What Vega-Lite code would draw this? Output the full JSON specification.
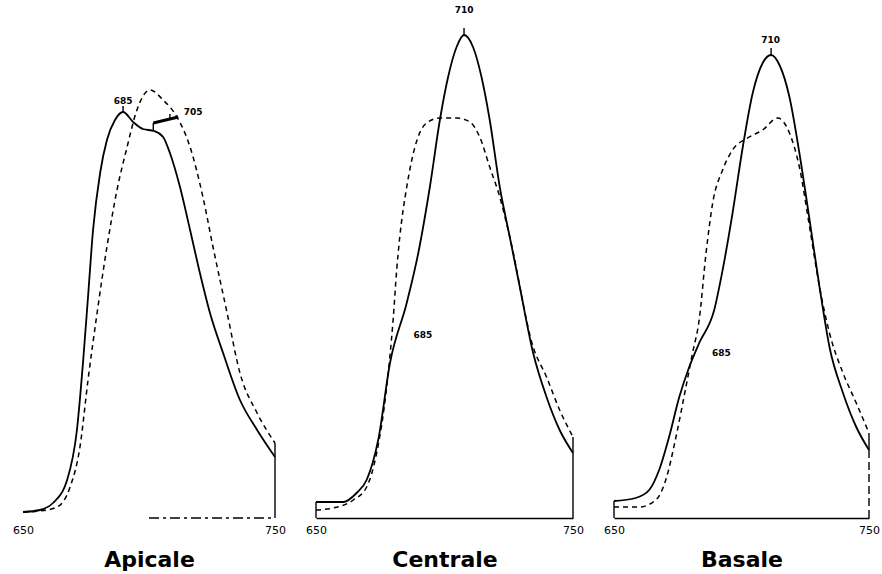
{
  "$schema": "https://vega.github.io/schema/vega-lite/v6.json",
  "padding": {"left": 12, "top": 3, "right": 5, "bottom": 5},
  "background": "white",
  "config": {"view": {"stroke": null}, "font": "DejaVu Sans",
    "axisX": {"ticks": false, "grid": false, "labelPadding": 6, "labelFontSize": 11, "labelColor": "black", "labelFont": "DejaVu Sans", "titleFontSize": 22, "titleFontWeight": "bold", "titleColor": "black", "titlePadding": 14, "domainColor": "black", "domainWidth": 1.5, "labelFlush": false}
  },
  "datasets": {
    "curves": [
      {"panel": "Apicale", "series": "solid", "nm": 650, "v": 6},
      {"panel": "Apicale", "series": "solid", "nm": 656.7, "v": 8},
      {"panel": "Apicale", "series": "solid", "nm": 661.9, "v": 15},
      {"panel": "Apicale", "series": "solid", "nm": 667.5, "v": 38},
      {"panel": "Apicale", "series": "solid", "nm": 671.4, "v": 88},
      {"panel": "Apicale", "series": "solid", "nm": 673.8, "v": 155},
      {"panel": "Apicale", "series": "solid", "nm": 675.8, "v": 221},
      {"panel": "Apicale", "series": "solid", "nm": 677.8, "v": 288},
      {"panel": "Apicale", "series": "solid", "nm": 680.6, "v": 345},
      {"panel": "Apicale", "series": "solid", "nm": 683.3, "v": 378},
      {"panel": "Apicale", "series": "solid", "nm": 686.5, "v": 398},
      {"panel": "Apicale", "series": "solid", "nm": 689.7, "v": 406},
      {"panel": "Apicale", "series": "solid", "nm": 693.7, "v": 396},
      {"panel": "Apicale", "series": "solid", "nm": 697.6, "v": 389},
      {"panel": "Apicale", "series": "solid", "nm": 702, "v": 387},
      {"panel": "Apicale", "series": "solid", "nm": 705.6, "v": 381},
      {"panel": "Apicale", "series": "solid", "nm": 708.3, "v": 365},
      {"panel": "Apicale", "series": "solid", "nm": 712.3, "v": 331},
      {"panel": "Apicale", "series": "solid", "nm": 716.3, "v": 288},
      {"panel": "Apicale", "series": "solid", "nm": 720.2, "v": 245},
      {"panel": "Apicale", "series": "solid", "nm": 724.2, "v": 205},
      {"panel": "Apicale", "series": "solid", "nm": 729.4, "v": 165},
      {"panel": "Apicale", "series": "solid", "nm": 736.1, "v": 118},
      {"panel": "Apicale", "series": "solid", "nm": 742.9, "v": 88},
      {"panel": "Apicale", "series": "solid", "nm": 750, "v": 61},

      {"panel": "Apicale", "series": "dashed", "nm": 650, "v": 6},
      {"panel": "Apicale", "series": "dashed", "nm": 656.7, "v": 7},
      {"panel": "Apicale", "series": "dashed", "nm": 663.5, "v": 11},
      {"panel": "Apicale", "series": "dashed", "nm": 668.7, "v": 31},
      {"panel": "Apicale", "series": "dashed", "nm": 672.6, "v": 71},
      {"panel": "Apicale", "series": "dashed", "nm": 675.8, "v": 138},
      {"panel": "Apicale", "series": "dashed", "nm": 679.4, "v": 205},
      {"panel": "Apicale", "series": "dashed", "nm": 683.3, "v": 271},
      {"panel": "Apicale", "series": "dashed", "nm": 687.3, "v": 328},
      {"panel": "Apicale", "series": "dashed", "nm": 691.3, "v": 371},
      {"panel": "Apicale", "series": "dashed", "nm": 695.2, "v": 408},
      {"panel": "Apicale", "series": "dashed", "nm": 700.4, "v": 428},
      {"panel": "Apicale", "series": "dashed", "nm": 705.6, "v": 418},
      {"panel": "Apicale", "series": "dashed", "nm": 711.1, "v": 401},
      {"panel": "Apicale", "series": "dashed", "nm": 716.3, "v": 371},
      {"panel": "Apicale", "series": "dashed", "nm": 721.4, "v": 321},
      {"panel": "Apicale", "series": "dashed", "nm": 725.4, "v": 271},
      {"panel": "Apicale", "series": "dashed", "nm": 731, "v": 205},
      {"panel": "Apicale", "series": "dashed", "nm": 736.1, "v": 145},
      {"panel": "Apicale", "series": "dashed", "nm": 742.9, "v": 105},
      {"panel": "Apicale", "series": "dashed", "nm": 750, "v": 75},

      {"panel": "Apicale", "series": "bracket", "nm": 701.7, "v": 395},
      {"panel": "Apicale", "series": "bracket", "nm": 711.6, "v": 401},

      {"panel": "Centrale", "series": "solid", "nm": 650, "v": 16},
      {"panel": "Centrale", "series": "solid", "nm": 660.6, "v": 16},
      {"panel": "Centrale", "series": "solid", "nm": 665.8, "v": 25},
      {"panel": "Centrale", "series": "solid", "nm": 669.7, "v": 38},
      {"panel": "Centrale", "series": "solid", "nm": 674.2, "v": 78},
      {"panel": "Centrale", "series": "solid", "nm": 678.8, "v": 155},
      {"panel": "Centrale", "series": "solid", "nm": 685.3, "v": 215},
      {"panel": "Centrale", "series": "solid", "nm": 689.8, "v": 265},
      {"panel": "Centrale", "series": "solid", "nm": 694.3, "v": 331},
      {"panel": "Centrale", "series": "solid", "nm": 698.2, "v": 398},
      {"panel": "Centrale", "series": "solid", "nm": 701.4, "v": 441},
      {"panel": "Centrale", "series": "solid", "nm": 704.7, "v": 471},
      {"panel": "Centrale", "series": "solid", "nm": 707.6, "v": 483},
      {"panel": "Centrale", "series": "solid", "nm": 711.1, "v": 471},
      {"panel": "Centrale", "series": "solid", "nm": 714.4, "v": 441},
      {"panel": "Centrale", "series": "solid", "nm": 717.6, "v": 398},
      {"panel": "Centrale", "series": "solid", "nm": 721.5, "v": 331},
      {"panel": "Centrale", "series": "solid", "nm": 725.4, "v": 281},
      {"panel": "Centrale", "series": "solid", "nm": 729.3, "v": 231},
      {"panel": "Centrale", "series": "solid", "nm": 734.5, "v": 165},
      {"panel": "Centrale", "series": "solid", "nm": 739.7, "v": 121},
      {"panel": "Centrale", "series": "solid", "nm": 744.8, "v": 88},
      {"panel": "Centrale", "series": "solid", "nm": 750, "v": 65},

      {"panel": "Centrale", "series": "dashed", "nm": 650, "v": 8},
      {"panel": "Centrale", "series": "dashed", "nm": 656.7, "v": 10},
      {"panel": "Centrale", "series": "dashed", "nm": 664.5, "v": 18},
      {"panel": "Centrale", "series": "dashed", "nm": 669.7, "v": 31},
      {"panel": "Centrale", "series": "dashed", "nm": 673.6, "v": 65},
      {"panel": "Centrale", "series": "dashed", "nm": 677.5, "v": 131},
      {"panel": "Centrale", "series": "dashed", "nm": 680, "v": 198},
      {"panel": "Centrale", "series": "dashed", "nm": 681.4, "v": 248},
      {"panel": "Centrale", "series": "dashed", "nm": 682.6, "v": 281},
      {"panel": "Centrale", "series": "dashed", "nm": 685.3, "v": 331},
      {"panel": "Centrale", "series": "dashed", "nm": 688.5, "v": 371},
      {"panel": "Centrale", "series": "dashed", "nm": 693, "v": 395},
      {"panel": "Centrale", "series": "dashed", "nm": 698.2, "v": 400},
      {"panel": "Centrale", "series": "dashed", "nm": 704.7, "v": 400},
      {"panel": "Centrale", "series": "dashed", "nm": 709.9, "v": 396},
      {"panel": "Centrale", "series": "dashed", "nm": 713.7, "v": 381},
      {"panel": "Centrale", "series": "dashed", "nm": 717.6, "v": 351},
      {"panel": "Centrale", "series": "dashed", "nm": 721.5, "v": 321},
      {"panel": "Centrale", "series": "dashed", "nm": 725.4, "v": 281},
      {"panel": "Centrale", "series": "dashed", "nm": 734.5, "v": 171},
      {"panel": "Centrale", "series": "dashed", "nm": 739.7, "v": 141},
      {"panel": "Centrale", "series": "dashed", "nm": 744.8, "v": 108},
      {"panel": "Centrale", "series": "dashed", "nm": 750, "v": 81},

      {"panel": "Basale", "series": "solid", "nm": 650, "v": 17},
      {"panel": "Basale", "series": "solid", "nm": 658.5, "v": 20},
      {"panel": "Basale", "series": "solid", "nm": 663.8, "v": 28},
      {"panel": "Basale", "series": "solid", "nm": 667.7, "v": 48},
      {"panel": "Basale", "series": "solid", "nm": 671.6, "v": 81},
      {"panel": "Basale", "series": "solid", "nm": 675.6, "v": 121},
      {"panel": "Basale", "series": "solid", "nm": 679.5, "v": 151},
      {"panel": "Basale", "series": "solid", "nm": 683.4, "v": 175},
      {"panel": "Basale", "series": "solid", "nm": 689.3, "v": 208},
      {"panel": "Basale", "series": "solid", "nm": 692.6, "v": 248},
      {"panel": "Basale", "series": "solid", "nm": 696.5, "v": 305},
      {"panel": "Basale", "series": "solid", "nm": 700.5, "v": 371},
      {"panel": "Basale", "series": "solid", "nm": 704.4, "v": 425},
      {"panel": "Basale", "series": "solid", "nm": 708.3, "v": 455},
      {"panel": "Basale", "series": "solid", "nm": 711.6, "v": 463},
      {"panel": "Basale", "series": "solid", "nm": 714.9, "v": 453},
      {"panel": "Basale", "series": "solid", "nm": 718.8, "v": 421},
      {"panel": "Basale", "series": "solid", "nm": 722.7, "v": 365},
      {"panel": "Basale", "series": "solid", "nm": 726.7, "v": 298},
      {"panel": "Basale", "series": "solid", "nm": 730.6, "v": 231},
      {"panel": "Basale", "series": "solid", "nm": 734.5, "v": 171},
      {"panel": "Basale", "series": "solid", "nm": 739.8, "v": 125},
      {"panel": "Basale", "series": "solid", "nm": 745, "v": 91},
      {"panel": "Basale", "series": "solid", "nm": 750, "v": 68},

      {"panel": "Basale", "series": "dashed", "nm": 650, "v": 11},
      {"panel": "Basale", "series": "dashed", "nm": 659.8, "v": 11},
      {"panel": "Basale", "series": "dashed", "nm": 666.4, "v": 18},
      {"panel": "Basale", "series": "dashed", "nm": 670.3, "v": 38},
      {"panel": "Basale", "series": "dashed", "nm": 674.3, "v": 81},
      {"panel": "Basale", "series": "dashed", "nm": 678.2, "v": 131},
      {"panel": "Basale", "series": "dashed", "nm": 680.8, "v": 165},
      {"panel": "Basale", "series": "dashed", "nm": 683.4, "v": 198},
      {"panel": "Basale", "series": "dashed", "nm": 686.1, "v": 265},
      {"panel": "Basale", "series": "dashed", "nm": 688.7, "v": 315},
      {"panel": "Basale", "series": "dashed", "nm": 692.6, "v": 348},
      {"panel": "Basale", "series": "dashed", "nm": 696.5, "v": 368},
      {"panel": "Basale", "series": "dashed", "nm": 702.4, "v": 380},
      {"panel": "Basale", "series": "dashed", "nm": 708.3, "v": 388},
      {"panel": "Basale", "series": "dashed", "nm": 714.2, "v": 400},
      {"panel": "Basale", "series": "dashed", "nm": 718.8, "v": 385},
      {"panel": "Basale", "series": "dashed", "nm": 722.7, "v": 351},
      {"panel": "Basale", "series": "dashed", "nm": 726.7, "v": 291},
      {"panel": "Basale", "series": "dashed", "nm": 730.6, "v": 231},
      {"panel": "Basale", "series": "dashed", "nm": 734.5, "v": 185},
      {"panel": "Basale", "series": "dashed", "nm": 739.8, "v": 145},
      {"panel": "Basale", "series": "dashed", "nm": 745, "v": 115},
      {"panel": "Basale", "series": "dashed", "nm": 750, "v": 85}
    ],
    "vrules": [
      {"panel": "Apicale", "kind": "solid", "nm": 750, "v": 0, "v2": 75},
      {"panel": "Apicale", "kind": "solid", "nm": 689.7, "v": 406, "v2": 412},
      {"panel": "Apicale", "kind": "solid", "nm": 701.7, "v": 387, "v2": 395},
      {"panel": "Apicale", "kind": "solid", "nm": 708.3, "v": 398, "v2": 404},
      {"panel": "Centrale", "kind": "solid", "nm": 650, "v": 0, "v2": 16},
      {"panel": "Centrale", "kind": "solid", "nm": 750, "v": 0, "v2": 81},
      {"panel": "Centrale", "kind": "solid", "nm": 707.6, "v": 483, "v2": 490},
      {"panel": "Basale", "kind": "solid", "nm": 650, "v": 0, "v2": 17},
      {"panel": "Basale", "kind": "solid", "nm": 750, "v": 60, "v2": 85},
      {"panel": "Basale", "kind": "broken", "nm": 750, "v": 0, "v2": 60},
      {"panel": "Basale", "kind": "solid", "nm": 711.6, "v": 463, "v2": 470}
    ],
    "hrules": [
      {"panel": "Apicale", "nm": 700, "nm2": 750, "v": 0}
    ],
    "labels": [
      {"panel": "Apicale", "nm": 689.7, "v": 417, "text": "685"},
      {"panel": "Apicale", "nm": 717.5, "v": 406, "text": "705"},
      {"panel": "Centrale", "nm": 707.6, "v": 508, "text": "710"},
      {"panel": "Centrale", "nm": 691.6, "v": 183, "text": "685"},
      {"panel": "Basale", "nm": 711.4, "v": 478, "text": "710"},
      {"panel": "Basale", "nm": 692.1, "v": 165, "text": "685"}
    ]
  },
  "bounds": "flush",
  "spacing": 41,
  "hconcat": [
    {
      "width": 252, "height": 515,
      "encoding": {
        "x": {"field": "nm", "type": "quantitative", "scale": {"domain": [650, 750]}, "axis": {"title": "Apicale", "domain": false, "values": [650, 750]}},
        "y": {"field": "v", "type": "quantitative", "scale": {"domain": [0, 515]}, "axis": null}
      },
      "layer": [
        {"data": {"name": "hrules"}, "transform": [{"filter": "datum.panel === 'Apicale'"}], "mark": {"type": "rule", "color": "black", "strokeWidth": 1.4, "strokeDash": [10, 4, 3, 4]}, "encoding": {"x2": {"field": "nm2"}}},
        {"data": {"name": "curves"}, "transform": [{"filter": "datum.panel === 'Apicale' && datum.series === 'dashed'"}], "mark": {"type": "line", "interpolate": "monotone", "color": "black", "strokeWidth": 1.5, "strokeDash": [5, 4]}},
        {"data": {"name": "curves"}, "transform": [{"filter": "datum.panel === 'Apicale' && datum.series === 'solid'"}], "mark": {"type": "line", "interpolate": "monotone", "color": "black", "strokeWidth": 1.8}},
        {"data": {"name": "curves"}, "transform": [{"filter": "datum.panel === 'Apicale' && datum.series === 'bracket'"}], "mark": {"type": "line", "color": "black", "strokeWidth": 3}},
        {"data": {"name": "vrules"}, "transform": [{"filter": "datum.panel === 'Apicale'"}], "mark": {"type": "rule", "color": "black", "strokeWidth": 1.4}, "encoding": {"y2": {"field": "v2"}}},
        {"data": {"name": "labels"}, "transform": [{"filter": "datum.panel === 'Apicale'"}], "mark": {"type": "text", "fontSize": 9, "fontWeight": "bold", "color": "black", "baseline": "middle", "align": "center"}, "encoding": {"text": {"field": "text"}}}
      ]
    },
    {
      "width": 257, "height": 515,
      "encoding": {
        "x": {"field": "nm", "type": "quantitative", "scale": {"domain": [650, 750]}, "axis": {"title": "Centrale", "values": [650, 750]}},
        "y": {"field": "v", "type": "quantitative", "scale": {"domain": [0, 515]}, "axis": null}
      },
      "layer": [
        {"data": {"name": "curves"}, "transform": [{"filter": "datum.panel === 'Centrale' && datum.series === 'dashed'"}], "mark": {"type": "line", "interpolate": "monotone", "color": "black", "strokeWidth": 1.5, "strokeDash": [5, 4]}},
        {"data": {"name": "curves"}, "transform": [{"filter": "datum.panel === 'Centrale' && datum.series === 'solid'"}], "mark": {"type": "line", "interpolate": "monotone", "color": "black", "strokeWidth": 1.8}},
        {"data": {"name": "vrules"}, "transform": [{"filter": "datum.panel === 'Centrale'"}], "mark": {"type": "rule", "color": "black", "strokeWidth": 1.4}, "encoding": {"y2": {"field": "v2"}}},
        {"data": {"name": "labels"}, "transform": [{"filter": "datum.panel === 'Centrale'"}], "mark": {"type": "text", "fontSize": 9, "fontWeight": "bold", "color": "black", "baseline": "middle", "align": "center"}, "encoding": {"text": {"field": "text"}}}
      ]
    },
    {
      "width": 255, "height": 515,
      "encoding": {
        "x": {"field": "nm", "type": "quantitative", "scale": {"domain": [650, 750]}, "axis": {"title": "Basale", "values": [650, 750]}},
        "y": {"field": "v", "type": "quantitative", "scale": {"domain": [0, 515]}, "axis": null}
      },
      "layer": [
        {"data": {"name": "curves"}, "transform": [{"filter": "datum.panel === 'Basale' && datum.series === 'dashed'"}], "mark": {"type": "line", "interpolate": "monotone", "color": "black", "strokeWidth": 1.5, "strokeDash": [5, 4]}},
        {"data": {"name": "curves"}, "transform": [{"filter": "datum.panel === 'Basale' && datum.series === 'solid'"}], "mark": {"type": "line", "interpolate": "monotone", "color": "black", "strokeWidth": 1.8}},
        {"data": {"name": "vrules"}, "transform": [{"filter": "datum.panel === 'Basale' && datum.kind === 'solid'"}], "mark": {"type": "rule", "color": "black", "strokeWidth": 1.4}, "encoding": {"y2": {"field": "v2"}}},
        {"data": {"name": "vrules"}, "transform": [{"filter": "datum.panel === 'Basale' && datum.kind === 'broken'"}], "mark": {"type": "rule", "color": "black", "strokeWidth": 1.4, "strokeDash": [8, 4]}, "encoding": {"y2": {"field": "v2"}}},
        {"data": {"name": "labels"}, "transform": [{"filter": "datum.panel === 'Basale'"}], "mark": {"type": "text", "fontSize": 9, "fontWeight": "bold", "color": "black", "baseline": "middle", "align": "center"}, "encoding": {"text": {"field": "text"}}}
      ]
    }
  ]
}
